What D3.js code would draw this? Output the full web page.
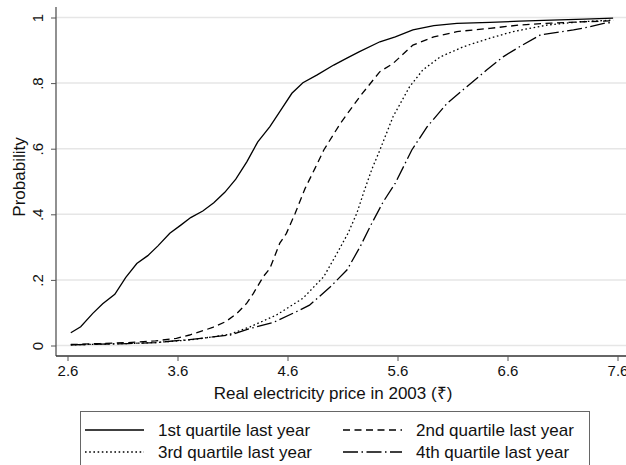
<!DOCTYPE html>
<html><head><meta charset="utf-8">
<script src="https://cdn.jsdelivr.net/npm/d3@7"></script>
<style>
body{margin:0;background:#fff;}
svg{display:block;font-family:"Liberation Sans",Arial,Helvetica,sans-serif;}
</style></head>
<body><svg id="chart" width="626" height="465"></svg>
<script>
// ---- data ----
const xTicks = [2.6, 3.6, 4.6, 5.6, 6.6, 7.6];
const yTicks = [0, 0.2, 0.4, 0.6, 0.8, 1];
const yTickLabels = ["0", ".2", ".4", ".6", ".8", "1"];
const seriesNames = ["1st quartile last year", "2nd quartile last year", "3rd quartile last year", "4th quartile last year"];

const priceQ1 = [2.63,2.72,2.83,2.92,3.03,3.13,3.23,3.33,3.42,3.53,3.63,3.72,3.83,3.93,4.03,4.13,4.23,4.33,4.44,4.53,4.64,4.74,4.87,5.02,5.14,5.25,5.44,5.58,5.74,5.93,6.14,6.44,6.71,7.0,7.3,7.56];
const probQ1  = [.039,.057,.098,.127,.156,.208,.25,.274,.303,.342,.367,.39,.41,.435,.467,.507,.56,.621,.667,.713,.769,.801,.825,.855,.876,.895,.926,.941,.962,.975,.982,.985,.989,.992,.995,.998];

const priceQ2 = [2.63,2.9,3.15,3.40,3.59,3.71,3.92,4.04,4.14,4.23,4.29,4.38,4.44,4.53,4.59,4.67,4.76,4.85,4.93,5.08,5.26,5.44,5.56,5.74,5.93,6.14,6.44,6.71,7.0,7.3,7.56];
const probQ2  = [.003,.006,.009,.014,.022,.032,.055,.073,.098,.129,.159,.21,.235,.312,.342,.403,.479,.54,.596,.677,.76,.835,.86,.916,.941,.957,.967,.977,.983,.987,.99];

const priceQ3 = [2.63,2.9,3.15,3.40,3.71,3.92,4.08,4.26,4.50,4.74,4.93,5.05,5.15,5.23,5.30,5.37,5.44,5.56,5.71,5.83,5.99,6.20,6.44,6.65,6.96,7.26,7.56];
const probQ3  = [.002,.004,.006,.009,.017,.026,.035,.057,.093,.144,.21,.281,.342,.403,.474,.54,.596,.698,.789,.84,.88,.911,.937,.957,.977,.987,.992];

const priceQ4 = [2.63,2.9,3.15,3.40,3.71,3.92,4.08,4.26,4.47,4.68,4.80,4.99,5.14,5.26,5.35,5.47,5.58,5.73,5.87,6.05,6.23,6.41,6.56,6.71,6.90,7.20,7.35,7.50,7.56];
const probQ4  = [.002,.004,.006,.009,.018,.026,.032,.052,.07,.103,.123,.179,.23,.301,.362,.438,.495,.596,.667,.738,.789,.84,.88,.911,.947,.962,.972,.984,.984];

const dashes = [null, "7,4.5", "1.6,2.6", "15,3.5,1.5,3.5"];

// ---- drawing ----
const svg = d3.select("#chart");
const x = d3.scaleLinear().domain([2.6, 7.6]).range([67.5, 617.5]);
const y = d3.scaleLinear().domain([0, 1]).range([345.5, 17.5]);
const plotL = 56, plotR = 626, plotT = 7, plotB = 356;

// gridlines
svg.append("g").selectAll("line").data(yTicks).join("line")
  .attr("x1", plotL).attr("x2", plotR)
  .attr("y1", d => y(d)).attr("y2", d => y(d))
  .attr("stroke", "#e6e6e6").attr("stroke-width", 1.5);

// y axis
const yAxis = svg.append("g").attr("transform", `translate(${plotL},0)`)
  .call(d3.axisLeft(y).tickValues(yTicks).tickFormat((d,i) => yTickLabels[i]).tickSize(5).tickSizeOuter(0));
yAxis.select(".domain").attr("d", `M0,${plotT}V${plotB}`).attr("stroke", "#555").attr("stroke-width", 1.3);
yAxis.selectAll(".tick line").attr("stroke", "#555");
yAxis.selectAll(".tick text").attr("x", null).attr("y", null).attr("dy", null)
  .attr("font-size", 15).attr("fill", "#111")
  .attr("transform", "translate(-13,0) rotate(-90)").attr("text-anchor", "middle");

// x axis
const xAxis = svg.append("g").attr("transform", `translate(0,${plotB})`)
  .call(d3.axisBottom(x).tickValues(xTicks).tickFormat(d3.format(".1f")).tickSize(5).tickSizeOuter(0));
xAxis.select(".domain").attr("d", `M${plotL},0H${plotR}`).attr("stroke", "#333").attr("stroke-width", 1.3);
xAxis.selectAll(".tick line").attr("stroke", "#555");
xAxis.selectAll(".tick text").attr("font-size", 15).attr("fill", "#111").attr("y", 9).attr("dy", "0.71em");

// axis titles
svg.append("text").attr("x", 333).attr("y", 399).attr("text-anchor", "middle")
  .attr("font-size", 17).attr("fill", "#111").text("Real electricity price in 2003 (₹)");
svg.append("text").attr("transform", "translate(25,177) rotate(-90)").attr("text-anchor", "middle")
  .attr("font-size", 17).attr("fill", "#111").text("Probability");

// series
const series = [
  {px: priceQ1, py: probQ1},
  {px: priceQ2, py: probQ2},
  {px: priceQ3, py: probQ3},
  {px: priceQ4, py: probQ4}
];
const line = d3.line().x(d => x(d[0])).y(d => y(d[1]));
series.forEach((s, i) => {
  svg.append("path").datum(s.px.map((v, j) => [v, s.py[j]]))
    .attr("d", line).attr("fill", "none").attr("stroke", "#000")
    .attr("stroke-width", 1.3).attr("stroke-dasharray", dashes[i]);
});

// legend
const lg = svg.append("g");
lg.append("rect").attr("x", 80.5).attr("y", 411.5).attr("width", 509).attr("height", 70)
  .attr("fill", "none").attr("stroke", "#666").attr("stroke-width", 1);
const pos = [[85, 430], [343, 430], [85, 452], [343, 452]];
seriesNames.forEach((name, i) => {
  const [lx, ly] = pos[i];
  lg.append("line").attr("x1", lx).attr("x2", lx + 59).attr("y1", ly).attr("y2", ly)
    .attr("stroke", "#000").attr("stroke-width", 1.3).attr("stroke-dasharray", dashes[i]);
  lg.append("text").attr("x", lx + 73).attr("y", ly + 6).attr("font-size", 17).attr("fill", "#111").text(name);
});
</script></body></html>
